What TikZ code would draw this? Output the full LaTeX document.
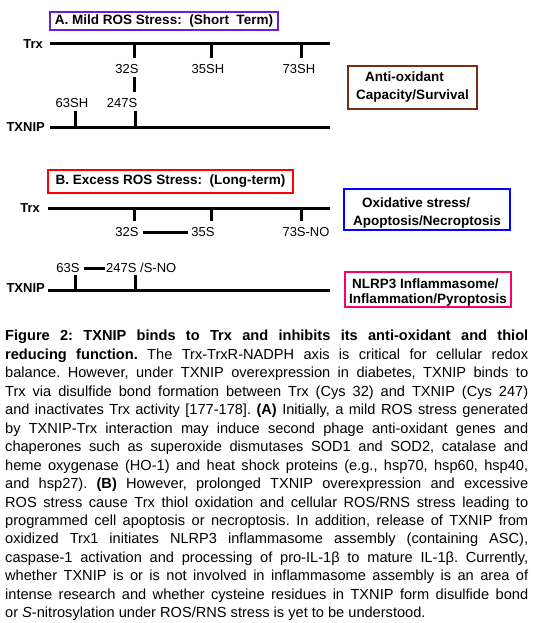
\documentclass[tikz,border=0pt]{standalone}
\usepackage{fontspec}
\setmainfont{Liberation Sans}
\usetikzlibrary{positioning}
\definecolor{mildviolet}{RGB}{106,27,224}
\definecolor{survbrown}{RGB}{122,48,16}
\definecolor{excessred}{RGB}{255,0,0}
\definecolor{oxblue}{RGB}{0,0,255}
\definecolor{nlrppink}{RGB}{255,0,102}

\begin{document}
\begin{tikzpicture}[
    x=1pt, y=-1pt,
    headbox/.style={rectangle, draw=#1, line width=1.1pt, inner sep=0pt, font=\fontsize{13.5}{16}\selectfont\bfseries},
    outbox/.style={rectangle, draw=#1, line width=1.1pt, inner sep=0pt, align=left, font=\fontsize{13.5}{18}\selectfont\bfseries},
    protein/.style={inner sep=0pt, font=\fontsize{13}{15}\selectfont\bfseries},
    site/.style={inner sep=0pt, font=\fontsize{13}{15}\selectfont},
    chain/.style={line width=3pt},
    legend/.style={anchor=north west, inner sep=0pt, text width=523pt, align=justify, font=\fontsize{14.6}{18.47}\selectfont}
]
\useasboundingbox (0,0) rectangle (534,623);

% A. Mild ROS stress
\node[headbox=mildviolet, minimum width=228pt, minimum height=18pt] (headA) at (164,21) {A. Mild ROS Stress:\ \ (Short\ \ Term)};

\coordinate (trxAw) at (50,44);
\coordinate (trxAe) at (330,44);
\coordinate (txnAw) at (50,127);
\coordinate (txnAe) at (330,127);
\node[protein, left=7pt of trxAw] (trxA) {Trx};
\node[protein, left=5pt of txnAw] (txnA) {TXNIP};

\coordinate (a32) at (134,44);   \coordinate (a32b) at (134,58);
\coordinate (a35) at (211,44);   \coordinate (a35b) at (211,58);
\coordinate (a73) at (301,44);   \coordinate (a73b) at (301,58);
\coordinate (a63) at (75,127);   \coordinate (a63t) at (75,111);
\coordinate (a247) at (135,127); \coordinate (a247t) at (135,111);
\coordinate (abondt) at (134,77); \coordinate (abondb) at (134,92);

\node[site] (sA32) at (127,69) {32S};
\node[site] (sA35) at (208,69) {35SH};
\node[site] (sA73) at (299,69) {73SH};
\node[site] (sA63) at (72,103) {63SH};
\node[site] (sA247) at (122,103) {247S};

\node[outbox=survbrown, minimum width=129pt, minimum height=43pt] (survA) at (412.5,87.5) {\hspace*{9pt}Anti-oxidant\\Capacity/Survival};

\draw[chain] (trxAw) -- (trxAe);
\draw[chain] (txnAw) -- (txnAe);
\draw[chain] (a32) -- (a32b);
\draw[chain] (a35) -- (a35b);
\draw[chain] (a73) -- (a73b);
\draw[chain] (a63) -- (a63t);
\draw[chain] (a247) -- (a247t);
\draw[chain] (abondt) -- (abondb);

% B. Excess ROS stress
\node[headbox=excessred, minimum width=245pt, minimum height=23pt] (headB) at (170.5,181.5) {B. Excess ROS Stress:\ \ (Long-term)};

\coordinate (trxBw) at (48,208);
\coordinate (trxBe) at (330,208);
\coordinate (txnBw) at (48,290);
\coordinate (txnBe) at (330,290);
\node[protein, left=8pt of trxBw] (trxB) {Trx};
\node[protein, left=3pt of txnBw, yshift=2pt] (txnB) {TXNIP};

\coordinate (b32) at (134,208);  \coordinate (b32b) at (134,221);
\coordinate (b35) at (211,208);  \coordinate (b35b) at (211,221);
\coordinate (b73) at (301,208);  \coordinate (b73b) at (301,221);
\coordinate (b63) at (75,290);   \coordinate (b63t) at (75,275);
\coordinate (b247) at (135,290); \coordinate (b247t) at (135,275);

\node[site] (sB32) at (127,232) {32S};
\node[site] (sB35) at (203,232) {35S};
\node[site] (sB73) at (306,232) {73S-NO};
\node[site] (sB63) at (68,268) {63S};
\node[site, anchor=west] (sB247) at (106,268) {247S /S-NO};

\node[outbox=oxblue, minimum width=166pt, minimum height=41pt] (oxB) at (427,209.5) {\rule{0pt}{17pt}\hspace*{9pt}Oxidative stress/\\Apoptosis/Necroptosis};
\node[outbox=nlrppink, minimum width=166pt, minimum height=35pt, font=\fontsize{13.5}{15}\selectfont\bfseries] (nlrpB) at (428,289.5) {\rule{0pt}{15pt}\hspace*{3pt}NLRP3 Inflammasome/\\Inflammation/Pyroptosis};

\draw[chain] (trxBw) -- (trxBe);
\draw[chain] (txnBw) -- (txnBe);
\draw[chain] (b32) -- (b32b);
\draw[chain] (b35) -- (b35b);
\draw[chain] (b73) -- (b73b);
\draw[chain] (b63) -- (b63t);
\draw[chain] (b247) -- (b247t);
\draw[chain] ([xshift=4pt]sB32.east) -- ([xshift=-3pt]sB35.west);
\draw[chain] ([xshift=4pt]sB63.east) -- ([xshift=-1pt]sB247.west);

% Caption
\node[legend] (caption) at (5,330) {\hyphenpenalty=10000\exhyphenpenalty=10000\frenchspacing
\textbf{Figure 2: TXNIP binds to Trx and inhibits its anti-oxidant and thiol}\linebreak
\textbf{reducing function.} The Trx-TrxR-NADPH axis is critical for cellular redox\linebreak
balance. However, under TXNIP overexpression in diabetes, TXNIP binds to\linebreak
Trx via disulfide bond formation between Trx (Cys 32) and TXNIP (Cys 247)\linebreak
and inactivates Trx activity [177-178]. \textbf{(A)} Initially, a mild ROS stress generated\linebreak
by TXNIP-Trx interaction may induce second phage anti-oxidant genes and\linebreak
chaperones such as superoxide dismutases SOD1 and SOD2, catalase and\linebreak
heme oxygenase (HO-1) and heat shock proteins (e.g., hsp70, hsp60, hsp40,\linebreak
and hsp27). \textbf{(B)} However, prolonged TXNIP overexpression and excessive\linebreak
ROS stress cause Trx thiol oxidation and cellular ROS/RNS stress leading to\linebreak
programmed cell apoptosis or necroptosis. In addition, release of TXNIP from\linebreak
oxidized Trx1 initiates NLRP3 inflammasome assembly (containing ASC),\linebreak
caspase-1 activation and processing of pro-IL-1β to mature IL-1β. Currently,\linebreak
whether TXNIP is or is not involved in inflammasome assembly is an area of\linebreak
intense research and whether cysteine residues in TXNIP form disulfide bond\linebreak
or \textit{S}-nitrosylation under ROS/RNS stress is yet to be understood.};

\end{tikzpicture}
\end{document}
